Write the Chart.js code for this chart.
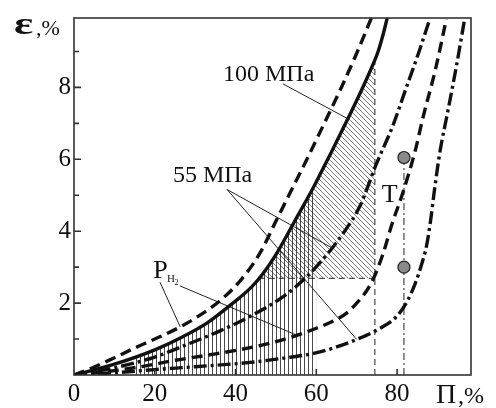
<!DOCTYPE html>
<html>
<head>
<meta charset="utf-8">
<script src="https://cdn.jsdelivr.net/npm/chart.js@4.4.0/dist/chart.umd.min.js"></script>
<style>
  html, body { margin: 0; padding: 0; background: #fff; }
</style>
</head>
<body>
<canvas id="chart" width="496" height="408"></canvas>
<script>
// Π, % (x) against ε, % (y)
const piTicks = [0, 20, 40, 60, 80];
const epsTicks = [2, 4, 6, 8];

const ph2Upper = [[0,0],[5,0.22],[10,0.48],[15,0.75],[20,1.0],[26.5,1.35],[31,1.65],[36.4,2.09],[41,2.6],[46,3.38],[50,4.28],[54.1,5.2],[58.1,6.1],[62.1,7.03],[66,7.95],[70,8.95],[73.7,9.95]];
const mpa100 = [[0,0],[10,0.3],[20,0.7],[27.2,1.08],[33,1.45],[38.8,1.95],[44,2.45],[47,2.85],[50,3.35],[54.5,4.25],[59.2,5.2],[63.5,6.15],[67.9,7.15],[71.3,7.95],[73.5,8.5],[75.3,9.0],[76.6,9.5],[77.6,9.95]];
const mpa55Upper = [[0,0],[10,0.2],[20,0.5],[28,0.85],[36,1.22],[43.6,1.63],[51.8,2.18],[57.6,2.73],[63,3.4],[67,4.0],[70.8,4.7],[74.8,5.85],[79,6.95],[82.3,8.0],[85.3,8.95],[88.1,9.9]];
const ph2Lower = [[0,0],[10,0.12],[20,0.3],[24,0.39],[33,0.55],[43.6,0.76],[50,0.93],[55.9,1.13],[60,1.3],[64.2,1.5],[67.5,1.72],[70,2.0],[72.5,2.35],[74.3,2.72],[76.6,3.4],[78.6,4.15],[81.5,5.1],[84.4,6.2],[86.5,7.2],[89.5,8.5],[92.2,9.9]];
const mpa55Lower = [[0,0],[10,0.06],[20,0.15],[30,0.23],[43.6,0.35],[52,0.47],[60.1,0.62],[65,0.78],[70,0.99],[75,1.25],[79.9,1.63],[82.5,2.05],[84.5,2.55],[86,3.05],[87.3,3.6],[88.3,4.3],[89.2,5.1],[90.6,6.2],[92.5,7.3],[94.7,8.6],[96.8,9.95]];

// guide lines and the two test points
const limitPi = 74.5;
const limitEps = 2.69;
const probePi = 81.7;
const probeEps = [6.05, 3.0];
const vHatchFrom = 15;
const vHatchTo = 60;

const pts = arr => arr.map(([x, y]) => ({x, y}));

// linear lookup on a curve, only used to find where hatching and leaders meet it
function epsAt(curve, pi) {
  for (let i = 1; i < curve.length; i++) {
    const [x0, y0] = curve[i - 1], [x1, y1] = curve[i];
    if (pi <= x1) return y0 + (y1 - y0) * (pi - x0) / (x1 - x0);
  }
  return curve[curve.length - 1][1];
}
function piAt(curve, eps) {
  for (let i = 1; i < curve.length; i++) {
    const [x0, y0] = curve[i - 1], [x1, y1] = curve[i];
    if (eps <= y1) return x0 + (x1 - x0) * (eps - y0) / (y1 - y0);
  }
  return curve[curve.length - 1][0];
}
function piece(curve, from, to) {
  const inner = curve.filter(([x]) => x > from && x < to);
  return pts([[from, epsAt(curve, from)], ...inner, [to, epsAt(curve, to)]]);
}

function tile(size, draw) {
  const c = document.createElement('canvas');
  c.width = c.height = size;
  const g = c.getContext('2d');
  draw(g, size);
  return g.createPattern(c, 'repeat');
}
const vHatch = tile(4, (g, s) => {
  g.fillStyle = 'rgba(30,30,30,0.8)';
  g.fillRect(0, 0, 1, s);
});
const dHatch = tile(5, (g, s) => {
  g.strokeStyle = '#777';
  g.lineWidth = 1;
  g.beginPath();
  g.moveTo(-1, -1); g.lineTo(s + 1, s + 1);
  g.moveTo(-1, s - 1); g.lineTo(1, s + 1);
  g.moveTo(s - 1, -1); g.lineTo(s + 1, 1);
  g.stroke();
});

const dashed = [11, 6];
const dashDot = [13, 4, 3, 4];

function curve(data, dash) {
  return {
    data: pts(data), borderColor: '#111', borderWidth: 3.4, borderDash: dash,
    fill: false, pointRadius: 0, cubicInterpolationMode: 'monotone', order: 1
  };
}
function thin(data, dash, width) {
  return {
    data: data, borderColor: '#222', borderWidth: width || 1, borderDash: dash || [],
    fill: false, pointRadius: 0, tension: 0, order: 2
  };
}

const diagStart = piAt(mpa100, limitEps);

const leaders = [
  [[51.7, 8.1], mpa100, 67.8],
  [[37.9, 5.16], mpa55Upper, 63.9],
  [[37.9, 5.16], mpa55Lower, 70],
  [[21.3, 2.58], ph2Upper, 26.3],
  [[26.2, 2.48], ph2Lower, 55.2]
];

const datasets = [
  // hatched areas
  {
    data: piece(mpa100, vHatchFrom, vHatchTo), borderWidth: 0, pointRadius: 0,
    backgroundColor: vHatch, fill: 'origin', cubicInterpolationMode: 'monotone', order: 5
  },
  {
    data: piece(mpa100, diagStart, limitPi), borderWidth: 0, pointRadius: 0,
    backgroundColor: dHatch, fill: {value: limitEps}, cubicInterpolationMode: 'monotone', order: 5
  },
  // guide lines
  thin([{x: diagStart, y: limitEps}, {x: limitPi, y: limitEps}], [6, 4]),
  thin([{x: limitPi, y: 0}, {x: limitPi, y: epsAt(mpa100, limitPi)}], [6, 4]),
  thin([{x: probePi, y: 0}, {x: probePi, y: probeEps[0]}], [7, 3, 2, 3]),
  // leaders
  ...leaders.map(([from, c, x]) => thin([{x: from[0], y: from[1]}, {x: x, y: epsAt(c, x)}], [], 1)),
  // curves
  curve(ph2Upper, dashed),
  curve(mpa100, []),
  curve(mpa55Upper, dashDot),
  curve(ph2Lower, dashed),
  curve(mpa55Lower, dashDot),
  // test points
  {
    data: probeEps.map(e => ({x: probePi, y: e})), showLine: false,
    pointRadius: 6, pointBackgroundColor: '#8a8a8a', pointBorderColor: '#222',
    pointBorderWidth: 1.2, order: 0
  }
];

const decor = {
  id: 'decor',
  afterDraw(chart) {
    const {ctx, chartArea: a, scales: {x, y}} = chart;
    const X = v => x.getPixelForValue(v), Y = v => y.getPixelForValue(v);
    const serif = s => s + 'px "Liberation Serif", serif';
    ctx.save();
    ctx.strokeStyle = '#333';
    ctx.lineWidth = 1.6;
    ctx.strokeRect(a.left, a.top, a.right - a.left, a.bottom - a.top);
    ctx.beginPath();
    for (let v = 1; v < 10; v++) {
      const py = Y(v);
      ctx.moveTo(a.left, py);
      ctx.lineTo(a.left + (v % 2 ? 5 : 7), py);
    }
    piTicks.slice(1).forEach(v => {
      ctx.moveTo(X(v), a.bottom);
      ctx.lineTo(X(v), a.bottom - 6);
    });
    ctx.stroke();

    ctx.fillStyle = '#111';
    ctx.textBaseline = 'alphabetic';
    ctx.font = serif(24);
    ctx.fillText('100 МПа', X(36.9), Y(8.18));
    ctx.fillText('55 МПа', X(24.5), Y(5.38));
    ctx.font = serif(26);
    ctx.fillText('T', X(76.2), Y(4.81));
    ctx.fillText('P', X(19.6), Y(2.7));
    ctx.font = serif(11);
    ctx.fillText('H', X(23), Y(2.59));
    ctx.font = serif(8);
    ctx.fillText('2', X(24.9), Y(2.5));

    // axis titles
    ctx.save();
    ctx.translate(a.left - 60, a.top + 16);
    ctx.scale(1.45, 1);
    ctx.font = 'bold 31px "Liberation Serif", serif';
    ctx.fillText('ε', 0, 0);
    ctx.restore();
    ctx.font = serif(22);
    ctx.fillText(',%', a.left - 38, a.top + 17);
    ctx.font = serif(28);
    ctx.fillText('Π', a.right - 35, a.bottom + 28);
    ctx.font = serif(24);
    ctx.fillText(',%', a.right - 13, a.bottom + 28);
    ctx.restore();
  }
};

const tickFont = {family: '"Liberation Serif", serif', size: 25};

new Chart(document.getElementById('chart'), {
  type: 'line',
  data: {datasets},
  options: {
    responsive: false,
    animation: false,
    devicePixelRatio: 1,
    layout: {padding: {top: 13, right: 25, left: 0, bottom: 0}},
    plugins: {legend: {display: false}, tooltip: {enabled: false}},
    scales: {
      x: {
        type: 'linear', min: 0, max: 98.3,
        grid: {display: false, drawTicks: false}, border: {display: false},
        afterBuildTicks: s => { s.ticks = piTicks.map(v => ({value: v})); },
        afterFit: s => { s.height = 33; },
        ticks: {font: tickFont, color: '#111', padding: 4, maxRotation: 0}
      },
      y: {
        type: 'linear', min: 0, max: 9.93,
        grid: {display: false, drawTicks: false}, border: {display: false},
        afterBuildTicks: s => { s.ticks = epsTicks.map(v => ({value: v})); },
        afterFit: s => { s.width = 74; },
        ticks: {font: tickFont, color: '#111', padding: 3}
      }
    }
  },
  plugins: [decor]
});
</script>
</body>
</html>
